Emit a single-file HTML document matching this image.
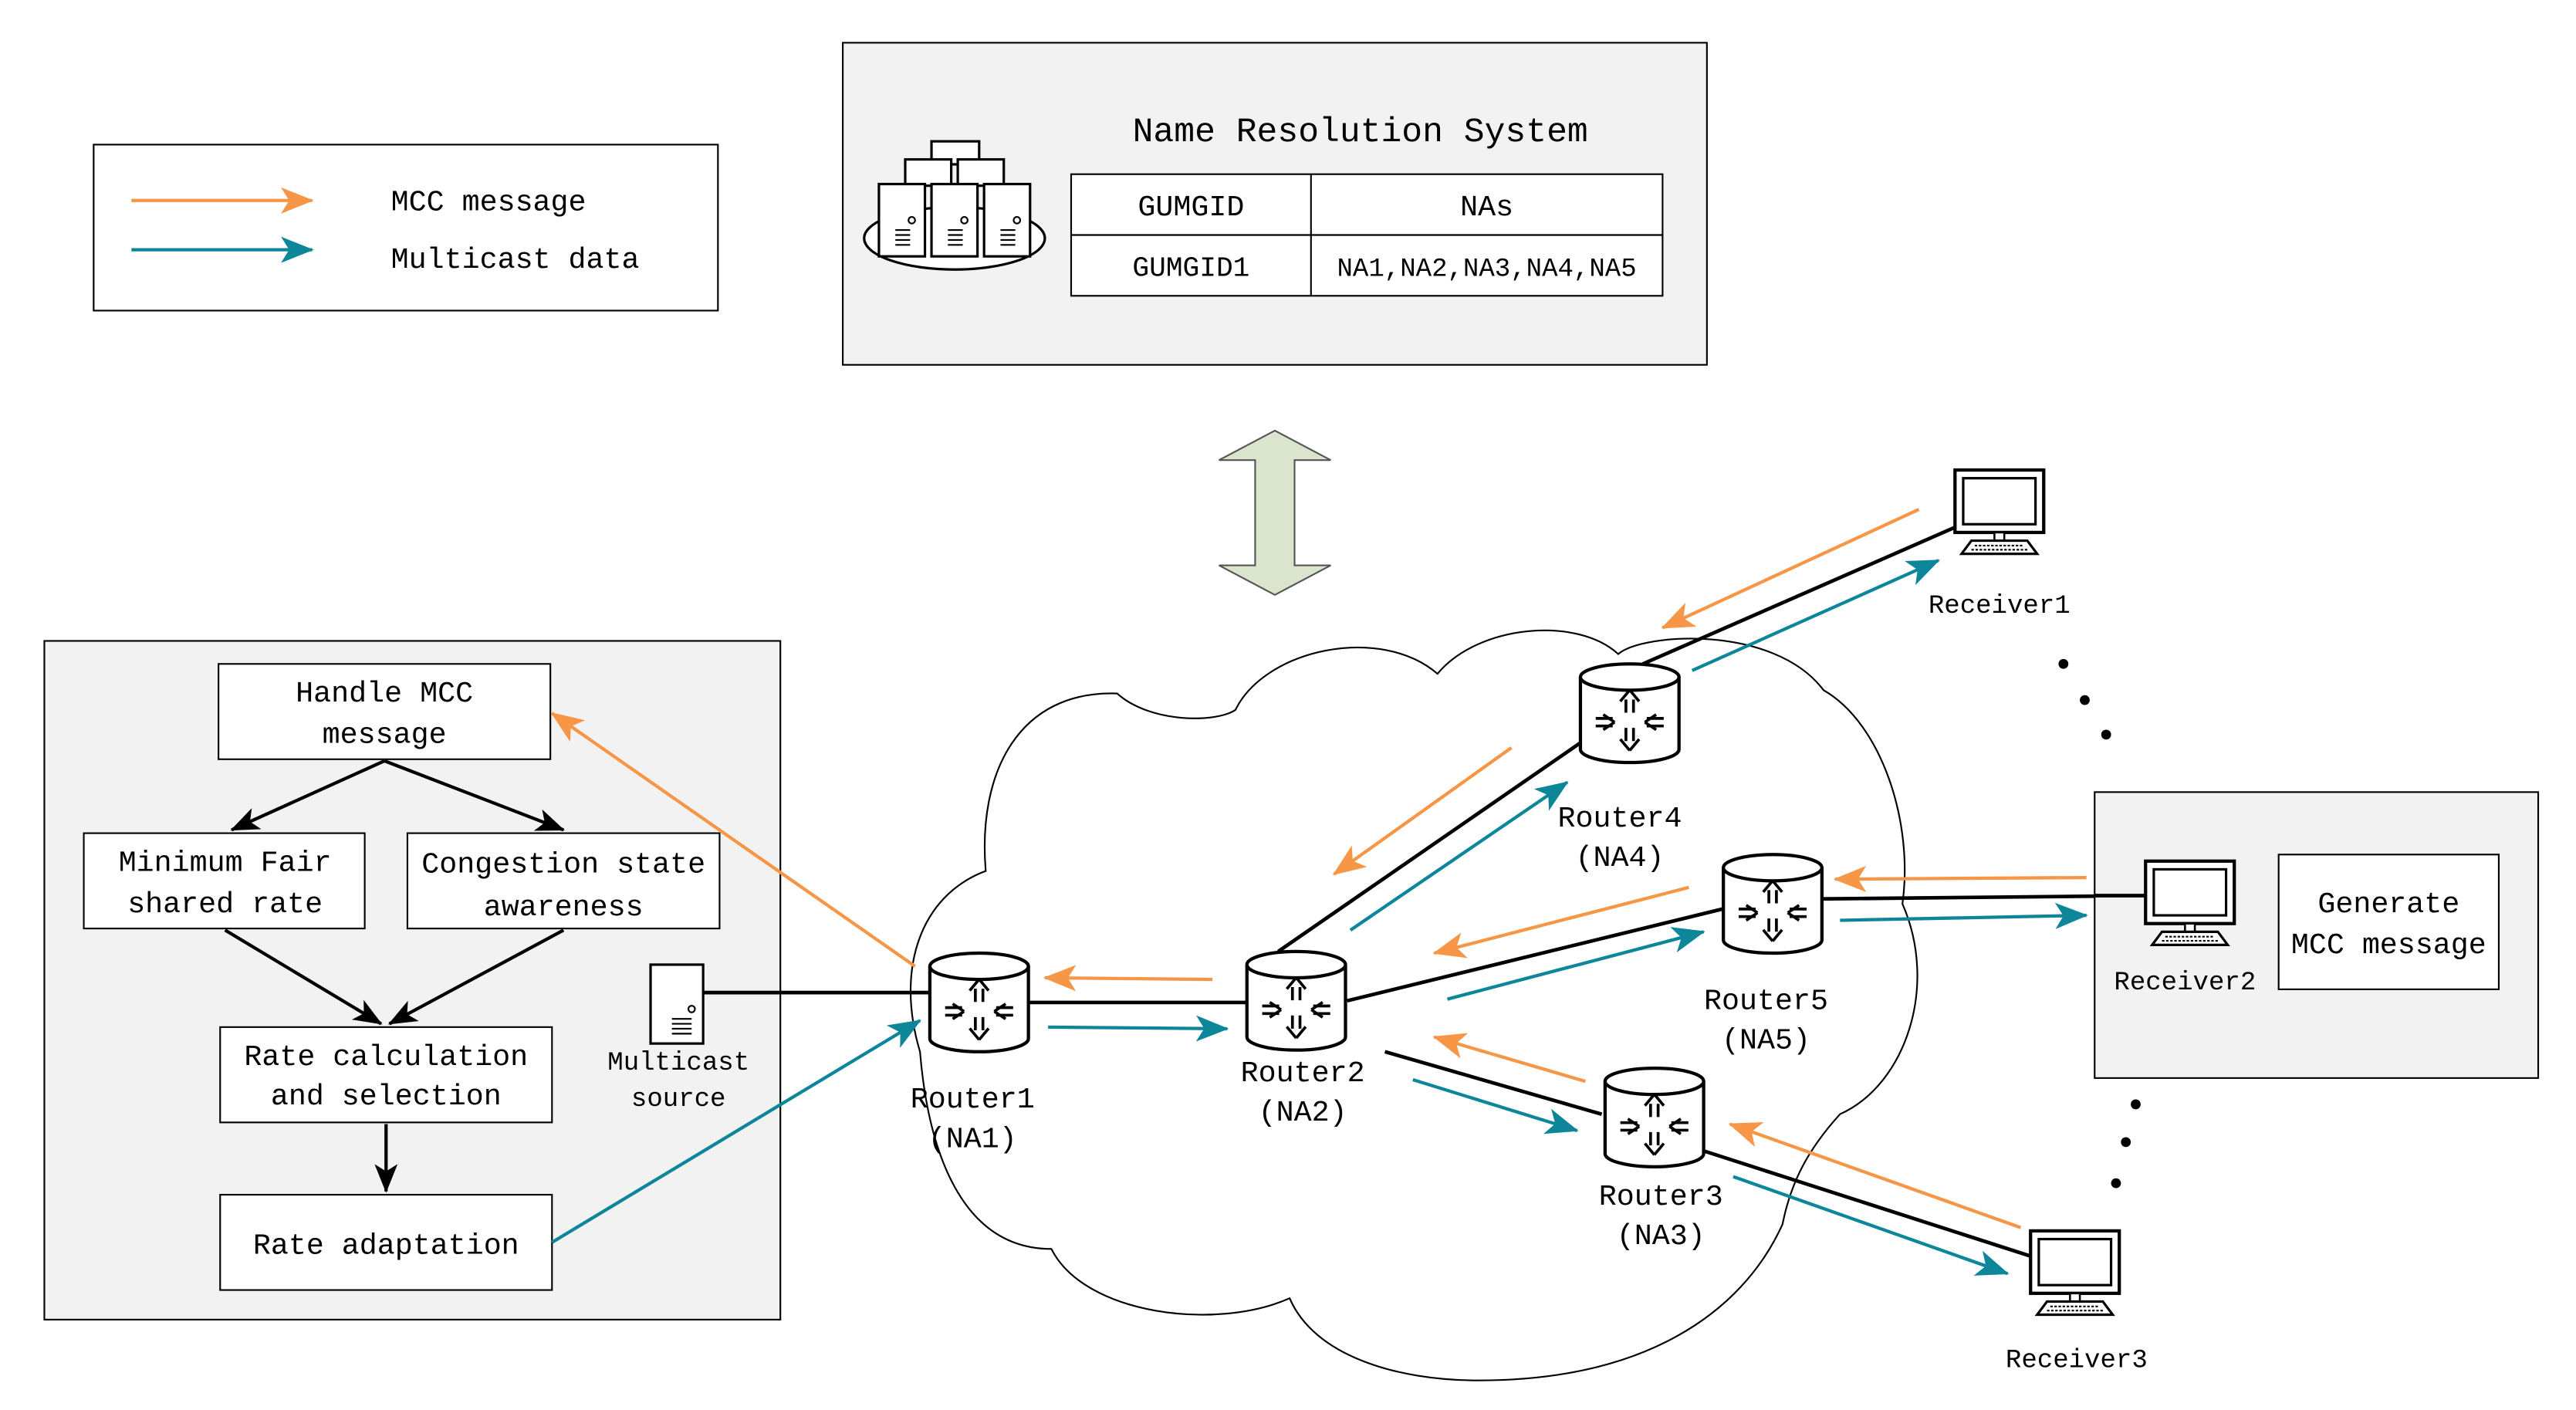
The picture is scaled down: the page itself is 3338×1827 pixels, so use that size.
<!DOCTYPE html>
<html><head><meta charset="utf-8"><style>
html,body{margin:0;padding:0;background:#fff;}
svg{display:block;}
text{font-family:"Liberation Mono","DejaVu Sans Mono",monospace;fill:#000;}
</style></head><body>
<svg width="3338" height="1827" viewBox="0 0 1568 858" preserveAspectRatio="none" xmlns="http://www.w3.org/2000/svg">
<defs>
<marker id="ao2" viewBox="0 0 20 16" markerWidth="20" markerHeight="16" refX="19" refY="8" orient="auto" markerUnits="userSpaceOnUse"><path d="M0,0 L20,8 L0,16 L5,8Z" fill="#f79646"/></marker>
<marker id="at" viewBox="0 0 20 16" markerWidth="20" markerHeight="16" refX="19" refY="8" orient="auto" markerUnits="userSpaceOnUse"><path d="M0,0 L20,8 L0,16 L5,8Z" fill="#0e869a"/></marker>
<marker id="ab" viewBox="0 0 20 16" markerWidth="18" markerHeight="14" refX="19" refY="8" orient="auto" markerUnits="userSpaceOnUse"><path d="M0,0 L20,8 L0,16 L5,8Z" fill="#000"/></marker>
<g id="router">
<path d="M-30,-22 L-30,22 A30,8 0 0 0 30,22 L30,-22" fill="#fff" stroke="#000" stroke-width="2"/>
<ellipse cx="0" cy="-22" rx="30" ry="8" fill="#fff" stroke="#000" stroke-width="2"/>
<g stroke="#000" stroke-width="1.5" fill="none" transform="translate(0,2) scale(1.15)">
<path d="M0,-14 L-5,-8 M0,-14 L5,-8 M-2,-9 L-2,-2 M2,-9 L2,-2"/>
<path d="M0,18 L-5,12 M0,18 L5,12 M-2,13 L-2,6 M2,13 L2,6"/>
<path d="M-8,3 L-14,-1 M-8,3 L-14,7 M-9,1 L-18,1 M-9,5 L-18,5"/>
<path d="M8,3 L14,-1 M8,3 L14,7 M9,1 L18,1 M9,5 L18,5"/>
</g>
</g>
<g id="pc">
<rect x="0" y="0" width="54" height="38" fill="#fff" stroke="#000" stroke-width="2"/>
<rect x="5" y="5" width="44" height="28" fill="#fff" stroke="#000" stroke-width="1.5"/>
<rect x="24" y="38" width="6" height="5" fill="#fff" stroke="#000" stroke-width="1.2"/>
<path d="M10,43 L44,43 L50,51 L4,51Z" fill="#fff" stroke="#000" stroke-width="1.5"/>
<path d="M12,46 H42 M10,48.5 H44" stroke="#000" stroke-width="1" stroke-dasharray="1.5,1"/>
</g>
<g id="srv">
<rect x="0" y="0" width="28" height="44" fill="#fff" stroke="#000" stroke-width="1.5"/>
<circle cx="20" cy="22" r="2" fill="none" stroke="#000"/>
<path d="M10,28 H19 M10,31 H19 M10,34 H19 M10,37 H19" stroke="#000" stroke-width="1"/>
</g>
</defs>

<rect x="57" y="88" width="380" height="101" fill="#fff" stroke="#000" stroke-width="1"/>
<line x1="80" y1="122" x2="190" y2="122" stroke="#f79646" stroke-width="2" marker-end="url(#ao2)"/>
<line x1="80" y1="152" x2="190" y2="152" stroke="#0e869a" stroke-width="2" marker-end="url(#at)"/>
<text x="238" y="128" font-size="18">MCC message</text>
<text x="238" y="163" font-size="18">Multicast data</text>

<rect x="513" y="26" width="526" height="196" fill="#f2f2f2" stroke="#000" stroke-width="1"/>
<text x="828" y="86" font-size="21" text-anchor="middle">Name Resolution System</text>
<rect x="652" y="106" width="360" height="74" fill="#fff" stroke="#000" stroke-width="1"/>
<line x1="798" y1="106" x2="798" y2="180" stroke="#000"/>
<line x1="652" y1="143" x2="1012" y2="143" stroke="#000"/>
<text x="725" y="131" font-size="18" text-anchor="middle">GUMGID</text>
<text x="905" y="131" font-size="18" text-anchor="middle">NAs</text>
<text x="725" y="168" font-size="17" text-anchor="middle" fill="#333">GUMGID1</text>
<text x="905" y="168" font-size="16" text-anchor="middle" fill="#333">NA1,NA2,NA3,NA4,NA5</text>
<ellipse cx="581" cy="145" rx="55" ry="19" fill="#fff" stroke="#000" stroke-width="1.5"/>
<rect x="567" y="86" width="29" height="14" fill="#fff" stroke="#000" stroke-width="1.5"/>
<rect x="551" y="97" width="28" height="16" fill="#fff" stroke="#000" stroke-width="1.5"/>
<rect x="583" y="97" width="28" height="16" fill="#fff" stroke="#000" stroke-width="1.5"/>
<use href="#srv" x="535" y="112"/>
<use href="#srv" x="567" y="112"/>
<use href="#srv" x="599" y="112"/>

<path d="M776,262 L810,280 L788,280 L788,344 L810,344 L776,362 L742,344 L764,344 L764,280 L742,280Z" fill="#dbe5cd" stroke="#555" stroke-width="1"/>

<rect x="27" y="390" width="448" height="413" fill="#f2f2f2" stroke="#000" stroke-width="1"/>
<rect x="133" y="404" width="202" height="58" fill="#fff" stroke="#000"/>
<text x="234" y="427" font-size="18" text-anchor="middle">Handle MCC</text>
<text x="234" y="452" font-size="18" text-anchor="middle">message</text>
<rect x="51" y="507" width="171" height="58" fill="#fff" stroke="#000"/>
<text x="137" y="530" font-size="18" text-anchor="middle">Minimum Fair</text>
<text x="137" y="555" font-size="18" text-anchor="middle">shared rate</text>
<rect x="248" y="507" width="190" height="58" fill="#fff" stroke="#000"/>
<text x="343" y="531" font-size="18" text-anchor="middle">Congestion state</text>
<text x="343" y="557" font-size="18" text-anchor="middle">awareness</text>
<rect x="134" y="625" width="202" height="58" fill="#fff" stroke="#000"/>
<text x="235" y="648" font-size="18" text-anchor="middle">Rate calculation</text>
<text x="235" y="672" font-size="18" text-anchor="middle">and selection</text>
<rect x="134" y="727" width="202" height="58" fill="#fff" stroke="#000"/>
<text x="235" y="763" font-size="18" text-anchor="middle">Rate adaptation</text>
<g stroke="#000" stroke-width="2">
<line x1="234" y1="463" x2="141" y2="505" marker-end="url(#ab)"/>
<line x1="234" y1="463" x2="343" y2="505" marker-end="url(#ab)"/>
<line x1="137" y1="566" x2="232" y2="623" marker-end="url(#ab)"/>
<line x1="343" y1="566" x2="237" y2="623" marker-end="url(#ab)"/>
<line x1="235" y1="684" x2="235" y2="725" marker-end="url(#ab)"/>
</g>

<path d="M560,640 C545,590 560,545 600,530 C595,470 620,420 680,422 C700,440 740,440 752,432 C770,395 840,380 875,410 C900,380 960,375 985,398 C1000,385 1080,380 1110,420 C1145,440 1165,500 1158,550 C1180,600 1160,660 1120,678 C1100,700 1090,720 1085,745 C1060,800 1000,840 900,840 C850,840 800,825 785,790 C740,810 660,800 640,760 C585,760 565,700 560,640Z" fill="#fff" stroke="#000" stroke-width="1"/>

<g stroke="#000" stroke-width="2.2" fill="none">
<line x1="428" y1="604" x2="567" y2="604"/>
<line x1="626" y1="610" x2="760" y2="610"/>
<line x1="778" y1="579" x2="962" y2="452"/>
<line x1="820" y1="609" x2="1049" y2="553"/>
<line x1="843" y1="640" x2="975" y2="678"/>
<line x1="1000" y1="404" x2="1192" y2="320"/>
<line x1="1108" y1="547" x2="1308" y2="545"/>
<line x1="1036" y1="700" x2="1238" y2="765"/>
</g>

<g stroke="#f79646" stroke-width="2" marker-end="url(#ao2)">
<line x1="1168" y1="310" x2="1012" y2="382"/>
<line x1="920" y1="455" x2="812" y2="532"/>
<line x1="1270" y1="534" x2="1117" y2="535"/>
<line x1="1028" y1="540" x2="873" y2="580"/>
<line x1="738" y1="596" x2="636" y2="595"/>
<line x1="965" y1="658" x2="873" y2="631"/>
<line x1="1230" y1="747" x2="1053" y2="684"/>
<line x1="557" y1="588" x2="336" y2="434"/>
</g>
<g stroke="#0e869a" stroke-width="2" marker-end="url(#at)">
<line x1="1030" y1="408" x2="1180" y2="341"/>
<line x1="822" y1="566" x2="954" y2="476"/>
<line x1="1120" y1="560" x2="1270" y2="557"/>
<line x1="881" y1="608" x2="1037" y2="567"/>
<line x1="638" y1="625" x2="747" y2="626"/>
<line x1="860" y1="657" x2="960" y2="688"/>
<line x1="1055" y1="716" x2="1222" y2="775"/>
<line x1="336" y1="756" x2="560" y2="621"/>
</g>

<rect x="396" y="587" width="32" height="48" fill="#fff" stroke="#000" stroke-width="1.5"/>
<circle cx="421" cy="614" r="2" fill="none" stroke="#000"/>
<path d="M409,620 H421 M409,623 H421 M409,626 H421 M409,629 H421" stroke="#000"/>
<text x="413" y="651" font-size="16" text-anchor="middle">Multicast</text>
<text x="413" y="673" font-size="16" text-anchor="middle">source</text>

<use href="#router" x="596" y="610"/>
<use href="#router" x="789" y="609"/>
<use href="#router" x="992" y="434"/>
<use href="#router" x="1079" y="550"/>
<use href="#router" x="1007" y="680"/>
<g font-size="18" text-anchor="middle">
<text x="592" y="674">Router1</text><text x="592" y="698">(NA1)</text>
<text x="793" y="658">Router2</text><text x="793" y="682">(NA2)</text>
<text x="986" y="503">Router4</text><text x="986" y="527">(NA4)</text>
<text x="1075" y="614">Router5</text><text x="1075" y="638">(NA5)</text>
<text x="1011" y="733">Router3</text><text x="1011" y="757">(NA3)</text>
</g>

<use href="#pc" x="1190" y="286"/>
<text x="1217" y="373" font-size="16" text-anchor="middle">Receiver1</text>
<rect x="1275" y="482" width="270" height="174" fill="#f2f2f2" stroke="#000" stroke-width="1"/>
<line x1="1275" y1="545" x2="1308" y2="545" stroke="#000" stroke-width="2.2"/>
<use href="#pc" x="1306" y="524"/>
<text x="1330" y="602" font-size="16" text-anchor="middle">Receiver2</text>
<rect x="1387" y="520" width="134" height="82" fill="#fff" stroke="#000"/>
<text x="1454" y="555" font-size="18" text-anchor="middle">Generate</text>
<text x="1454" y="580" font-size="18" text-anchor="middle">MCC message</text>
<use href="#pc" x="1236" y="749"/>
<text x="1264" y="832" font-size="16" text-anchor="middle">Receiver3</text>

<g fill="#000">
<circle cx="1256" cy="404" r="3"/><circle cx="1269" cy="426" r="3"/><circle cx="1282" cy="447" r="3"/>
<circle cx="1300" cy="672" r="3"/><circle cx="1294" cy="695" r="3"/><circle cx="1288" cy="720" r="3"/>
</g>
</svg>
</body></html>
